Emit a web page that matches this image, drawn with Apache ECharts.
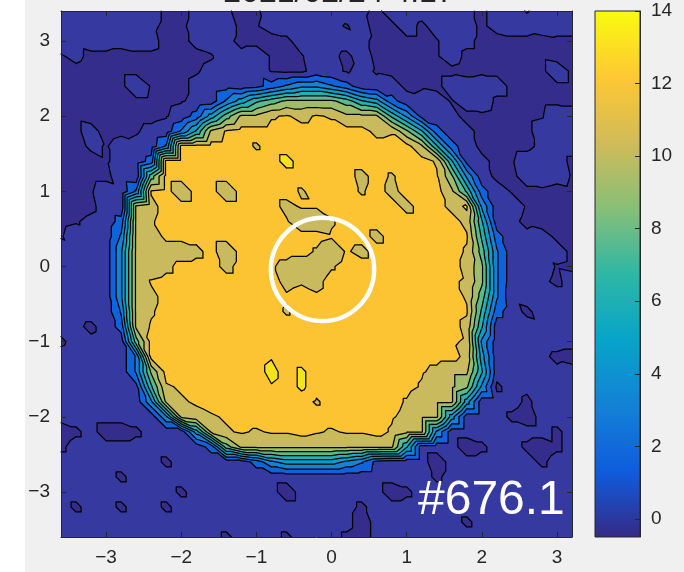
<!DOCTYPE html>
<html><head><meta charset="utf-8">
<script src="https://cdn.jsdelivr.net/npm/echarts@6/dist/echarts.min.js"></script>
<style>html,body{margin:0;padding:0;background:#fff}#c{width:684px;height:572px}</style>
</head><body><div id="c"></div>
<script>
// ---- data ----
const xValues = [-3.6,-3.4,-3.2,-3.0,-2.8,-2.6,-2.4,-2.2,-2.0,-1.8,-1.6,-1.4,-1.2,-1.0,-0.8,-0.6,-0.4,-0.2,0,0.2,0.4,0.6,0.8,1.0,1.2,1.4,1.6,1.8,2.0,2.2,2.4,2.6,2.8,3.0,3.2];
const yValues = [3.4,3.2,3.0,2.8,2.6,2.4,2.2,2.0,1.8,1.6,1.4,1.2,1.0,0.8,0.6,0.4,0.2,0,-0.2,-0.4,-0.6,-0.8,-1.0,-1.2,-1.4,-1.6,-1.8,-2.0,-2.2,-2.4,-2.6,-2.8,-3.0,-3.2,-3.4,-3.6];
// value of each grid-point code
const levelCodes = {'N':-0.9,'M':-0.6,'n':-0.3,'m':-0.1,',':0.3,'.':0.6,':':0.95,
  '1':1.0,'2':2.1,'3':3.2,'4':4.2,'5':5.2,'6':6.2,'7':7.2,'8':8.3,'9':9.3,
  'k':10.8,'K':11.0,'j':11.6,'q':11.85,'p':12.15,'o':12.5,'x':13.3,'y':13.9,'Y':14.3};
// one string per row (top y=3.4 to bottom y=-3.6), one code per column (x=-3.6 .. 3.2)
const fieldRows = [
".:.., ..nM. .,Mn: ..... ,n.:. ..,n. .m...",
"..... .,nn. ..nm. ...,m .Mn.n .:.n. ..:..",
".,... ..Mn, .,nnM n.:.. ,nMnn m.,nM nnMnn",
"m,nnM nnMnn m.,.m nm.,n .nMnn m.nnM nnnMn",
"nnMnn nMnnm ,..:m nn.,m ,mnnM nnMnn nMn:n",
"nMnnn :mnn, .:.12 34432 .,.nm n.::. nnMnn",
"nnnMn nnnm, .3578 99998 652., .m.:n nMnnn",
"nnMnn nnm.2 58kkq pjpqk kk741 .,nnM nnm:.",
"nn.Mn m,.36 kpooo ooooo ojq96 2.,nn Mn.:.",
"nM,m. ,.3oo oooqo ooooo ooook 62.nM nn,..",
"nnMm, .2ooo ooooo Yoooo ooooo q61,n m.:.n",
"nMnn. ,8ooo ooooo ooooo joqoo p94.n n.:.m",
"nnm., 3poKo oKooo oqooo qojoo ok72. mnnMn",
"nMn., kjooo ooooo jppoo ooojo ojp4. .mnnM",
"nm,.2 kqooo ooooo pKKqo ooooo ooj6. ,nMnn",
"m.,.3 kkooo ooooo ooopo ojooo oop72 .,.nM",
".,..4 kkKKj oKooo ooqKp joooo ooq83 ..,.n",
"..,.4 kkjoo ojoop jKKqo ooooo ooj93 .,.mn",
",...4 kpooo ooooo jqjoo ooooo opq93 ..,n.",
"..:.4 kjooo ooooo popoo ooooo ooq83 ,....",
"....3 kqooo ooooo qoooo ooooo oop72 .n.,.",
".,n.2 kpooo ooooo ooooo ooooo ooj6. ..,..",
"n.,.. 8oooo ooooo ooooo ooooo opq4. .:...",
".:... 3oooo oooox ooooo ooooo ooj5. ..,nM",
"..,.. 39ooo ooooY oyooo oooop jkk6. ...,.",
"..... 17qpo oooox oyooo ooooq kk94n .,...",
"..... .4kqp ooooo ooqoo oooqk kk5.. .n...",
"..... ..4kj qpooo ooooo oopjk k5... nN...",
"Nn.NN n...5 kqpqp popqp poqkk 4.... ...n.",
"n.... ..... 28kkk kkkkk kkk6. ..Nn. .nNn.",
"..... ..n.. ...24 55554 31... N.... ..n..",
"....n ..... ..... ..... ..... n.... .....",
"..... ...n. ..... N.... ..Nn. ..... .....",
".n..n ..n.. ..... ..... n.... ..... .....",
"..... ..... ..... ..... N.... ..n.. .....",
"..... ..... .n... n...n N.... ..... ....."
];
const contourLevels = [0, 1.5, 3, 4.5, 6, 7.5, 9, 10.5, 12, 13.5];
const bandColors = ['#342d8b','#3539a0','#0f64de','#1682d6','#0a9dcc','#22b1b0','#5aba8c','#9dbd6c','#c9ba5e','#fcc433','#f5e41a'];
const parulaStops = ['#352a87','#0f5cdd','#1481d6','#06a4ca','#2eb7a4','#87bf77','#d1bb59','#fec832','#f9fb0e'];
const axisTicks = [-3,-2,-1,0,1,2,3];
const colorbarTicks = [0,2,4,6,8,10,12,14];
const colorbarRange = [-0.5, 14];
const markerCircle = [-0.12, -0.04, 0.687];
const panelLabel = '#676.1';
const titleText = '2021/02/24 4:17';

// ---- table built from the rows ----
const field = fieldRows.map(s => s.replace(/ /g, '').split('').map(c => levelCodes[c]));

const FONT = '"Liberation Sans", Arial, Helvetica, sans-serif';
const fmt = v => (v < 0 ? '\u2212' + (-v) : String(v));

function clipPoly(poly, L) {
  const out = [], n = poly.length;
  for (let a = 0; a < n; a++) {
    const P = poly[a], Q = poly[(a + 1) % n];
    const pin = P[2] >= L, qin = Q[2] >= L;
    if (pin) out.push(P);
    if (pin !== qin) {
      const t = (L - P[2]) / (Q[2] - P[2]);
      out.push([P[0] + t * (Q[0] - P[0]), P[1] + t * (Q[1] - P[1]), L]);
    }
  }
  return out;
}
function isoSeg(tri, L) {
  const pts = [];
  for (let a = 0; a < 3; a++) {
    const P = tri[a], Q = tri[(a + 1) % 3];
    if ((P[2] >= L) !== (Q[2] >= L)) {
      const t = (L - P[2]) / (Q[2] - P[2]);
      pts.push([P[0] + t * (Q[0] - P[0]), P[1] + t * (Q[1] - P[1])]);
    }
  }
  return pts.length === 2 ? pts : null;
}
const f2 = v => v.toFixed(2);

function renderField(params, api) {
  const nx = xValues.length, ny = yValues.length;
  const P = [];
  for (let j = 0; j < ny; j++) {
    const row = [];
    for (let i = 0; i < nx; i++) {
      const c = api.coord([xValues[i], yValues[j]]);
      row.push([c[0], c[1], field[j][i]]);
    }
    P.push(row);
  }
  const tris = [];
  for (let j = 0; j < ny - 1; j++) for (let i = 0; i < nx - 1; i++) {
    const a = P[j][i], b = P[j][i + 1], c = P[j + 1][i + 1], d = P[j + 1][i];
    tris.push([a, b, c], [a, c, d]);
  }
  const children = [];
  const tl = P[0][0], br = P[ny - 1][nx - 1];
  children.push({type: 'rect', shape: {x: tl[0], y: tl[1], width: br[0] - tl[0], height: br[1] - tl[1]}, style: {fill: bandColors[0]}});
  for (let k = 0; k < contourLevels.length; k++) {
    const L = contourLevels[k];
    const Ln = k + 1 < contourLevels.length ? contourLevels[k + 1] : Infinity;
    let d = '';
    for (const t of tris) {
      const mx = Math.max(t[0][2], t[1][2], t[2][2]);
      const mn = Math.min(t[0][2], t[1][2], t[2][2]);
      if (mx < L || mn >= Ln) continue;
      const poly = clipPoly(t, L);
      if (poly.length < 3) continue;
      d += 'M' + f2(poly[0][0]) + ' ' + f2(poly[0][1]);
      for (let q = 1; q < poly.length; q++) d += 'L' + f2(poly[q][0]) + ' ' + f2(poly[q][1]);
      d += 'Z';
    }
    if (d) children.push({type: 'path', shape: {pathData: d}, style: {fill: bandColors[k + 1], stroke: null}});
  }
  let lines = '';
  for (const L of contourLevels) {
    for (const t of tris) {
      const s = isoSeg(t, L);
      if (s) lines += 'M' + f2(s[0][0]) + ' ' + f2(s[0][1]) + 'L' + f2(s[1][0]) + ' ' + f2(s[1][1]);
    }
  }
  if (lines) children.push({type: 'path', shape: {pathData: lines}, style: {fill: null, stroke: '#000', lineWidth: 1.25, lineCap: 'round'}});
  return {type: 'group', children};
}

function renderCircle(params, api) {
  const c = api.coord([api.value(0), api.value(1)]);
  const r = api.size([api.value(2), 0])[0];
  return {type: 'circle', shape: {cx: c[0], cy: c[1], r: r}, style: {fill: 'transparent', stroke: '#ffffff', lineWidth: 4.5}};
}

function renderColorbar(params, api) {
  const p0 = api.coord([0, colorbarRange[0]]);
  const p1 = api.coord([1, colorbarRange[1]]);
  const grad = new echarts.graphic.LinearGradient(0, 1, 0, 0,
    parulaStops.map((c, i) => ({offset: i / (parulaStops.length - 1), color: c})));
  return {type: 'rect', shape: {x: p0[0], y: p1[1], width: p1[0] - p0[0], height: p0[1] - p1[1]},
    style: {fill: grad, stroke: '#262626', lineWidth: 1}};
}

const lineStyle = {color: '#262626', width: 1};
const labelStyle = {color: '#262626', fontSize: 19, fontFamily: FONT};

const chart = echarts.init(document.getElementById('c'), null, {renderer: 'canvas', width: 684, height: 572});
chart.setOption({
  animation: false,
  backgroundColor: '#ffffff',
  graphic: [
    {type: 'rect', z: -10, silent: true, shape: {x: 25, y: 0, width: 659, height: 572}, style: {fill: '#f0f0f0'}},
    {type: 'text', z: 10, x: 339, y: -23, style: {text: titleText, fill: '#262626', font: '32px ' + FONT, align: 'center', verticalAlign: 'top'}},
    {type: 'text', z: 100, x: 418, y: 477, style: {text: panelLabel, fill: '#ffffff', font: '48px ' + FONT, align: 'left', verticalAlign: 'top'}}
  ],
  grid: [
    {left: 61, top: 11, right: 112, bottom: 35},
    {left: 595, top: 11, right: 44, bottom: 35}
  ],
  xAxis: [
    {gridIndex: 0, type: 'value', min: -3.6, max: 3.2, position: 'bottom', z: 5,
      axisLine: {show: true, onZero: false, lineStyle},
      axisTick: {show: true, inside: true, length: 5, customValues: axisTicks, lineStyle},
      axisLabel: Object.assign({show: true, customValues: axisTicks, margin: 11, formatter: fmt}, labelStyle),
      splitLine: {show: false}},
    {gridIndex: 0, type: 'value', min: -3.6, max: 3.2, position: 'top', z: 5,
      axisLine: {show: true, onZero: false, lineStyle},
      axisTick: {show: true, inside: true, length: 5, customValues: axisTicks, lineStyle},
      axisLabel: {show: false}, splitLine: {show: false}},
    {gridIndex: 1, type: 'value', min: 0, max: 1, show: false}
  ],
  yAxis: [
    {gridIndex: 0, type: 'value', min: -3.6, max: 3.4, position: 'left', z: 5,
      axisLine: {show: true, onZero: false, lineStyle},
      axisTick: {show: true, inside: true, length: 5, customValues: axisTicks, lineStyle},
      axisLabel: Object.assign({show: true, customValues: axisTicks, margin: 11, formatter: fmt}, labelStyle),
      splitLine: {show: false}},
    {gridIndex: 0, type: 'value', min: -3.6, max: 3.4, position: 'right', z: 5,
      axisLine: {show: true, onZero: false, lineStyle},
      axisTick: {show: true, inside: true, length: 5, customValues: axisTicks, lineStyle},
      axisLabel: {show: false}, splitLine: {show: false}},
    {gridIndex: 1, type: 'value', min: colorbarRange[0], max: colorbarRange[1], position: 'right', z: 5,
      axisLine: {show: true, onZero: false, lineStyle},
      axisTick: {show: true, inside: true, length: 5, customValues: colorbarTicks, lineStyle},
      axisLabel: Object.assign({show: true, customValues: colorbarTicks, margin: 11}, labelStyle),
      splitLine: {show: false}}
  ],
  series: [
    {type: 'custom', xAxisIndex: 0, yAxisIndex: 0, z: 1, silent: true, renderItem: renderField, data: [[0, 0]]},
    {type: 'custom', xAxisIndex: 0, yAxisIndex: 0, z: 3, silent: true, renderItem: renderCircle, data: [markerCircle]},
    {type: 'custom', xAxisIndex: 2, yAxisIndex: 2, z: 1, silent: true, renderItem: renderColorbar, data: [[0.5, 7]]}
  ]
});
</script>
</body></html>
